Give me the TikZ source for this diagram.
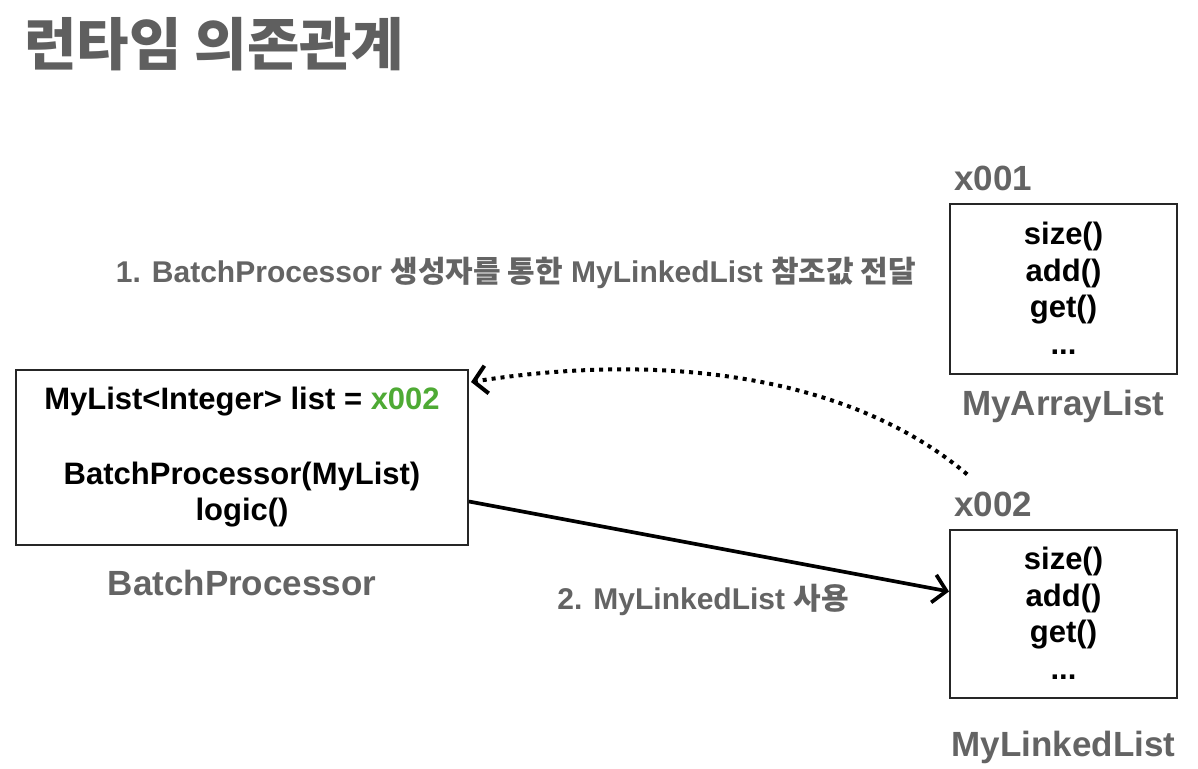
\documentclass[tikz,border=0pt]{standalone}
\usepackage{fontspec}
\setmainfont{Liberation Sans}
\newfontfamily\kr{Noto Sans CJK KR}
\usetikzlibrary{
  positioning,
  arrows.meta,
}
\definecolor{namegray}{RGB}{100,100,100}
\definecolor{titlegray}{RGB}{95,95,95}
\definecolor{refgreen}{RGB}{78,170,52}
\newcommand\methfont{\fontsize{31}{36.5}\selectfont\bfseries}
\tikzset{
  >={Straight Barb[length=13pt,width=28pt]},
  objbox/.style={
    rectangle,
    draw=black!85,
    line width=2pt,
    align=center,
    inner sep=0pt,
    font=\methfont,
  },
  listbox/.style={
    objbox,
    minimum width=227pt,
    minimum height=170pt,
  },
  objname/.style={
    inner sep=0pt,
    text=namegray,
    font=\fontsize{35}{40}\selectfont\bfseries,
  },
  steplabel/.style={
    inner sep=0pt,
    anchor=base,
    text=namegray,
    font=\fontsize{30}{34}\selectfont\bfseries,
  },
  useline/.style={
    ->,
    line width=3.7pt,
    black,
  },
  refline/.style={
    ->,
    line width=4pt,
    dash pattern=on 4pt off 5pt,
    black,
  },
}

\begin{document}
\begin{tikzpicture}[x=1pt,y=-1pt]
  \useasboundingbox (0,0) rectangle (1198,768);

  % title
  \node[inner sep=0pt, anchor=base west, text=titlegray,
        font=\kr\fontsize{57}{64}\selectfont\bfseries] (title) at (24,66) {런타임 의존관계};

  % client
  \node[objbox, minimum width=452pt, minimum height=175pt] (batch) at (242,457.5)
    {MyList<Integer> list = \textcolor{refgreen}{x002}\\[38pt]
     BatchProcessor(MyList)\\ logic()};
  \node[objname, below=24pt of batch] (batchname) {BatchProcessor};

  % instances
  \node[listbox] (arraylist) at (1063.5,288.5) {size()\\ add()\\ get()\\ ...};
  \node[objname, above right=11pt and 5pt of arraylist.north west] (x001) {x001};
  \node[objname, below=15pt of arraylist] (arrayname) {MyArrayList};

  \node[listbox, minimum height=168pt] (linkedlist) at (1063.5,613.5) {size()\\ add()\\ get()\\ ...};
  \node[objname, above right=11pt and 5pt of linkedlist.north west] (x002) {x002};
  \node[objname, below=32pt of linkedlist] (linkedname) {MyLinkedList};

  % steps
  \node[steplabel] (step1) at (516,282)
    {1. BatchProcessor {\kr 생성자를 통한} MyLinkedList {\kr 참조값 전달}};
  \node[steplabel] (step2) at (703,609) {2. MyLinkedList {\kr 사용}};

  \draw[refline] ([shift={(-26,-18)}]x002.north)
    .. controls +(-118,-100) and +(190,-30) .. ([shift={(2,13)}]batch.north east);
  \draw[useline] ([yshift=-44pt]batch.east) -- ([yshift=22pt]linkedlist.west);
\end{tikzpicture}
\end{document}
